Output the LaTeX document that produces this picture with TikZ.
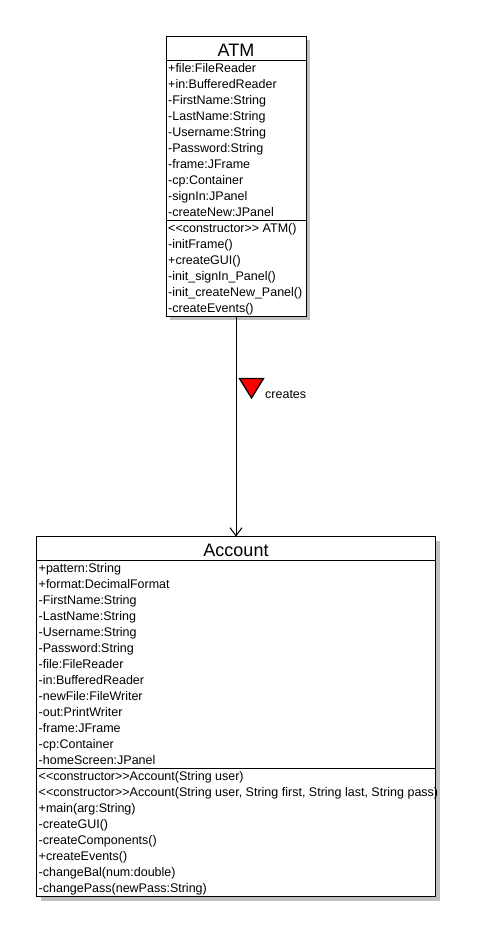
\documentclass[tikz,border=0pt]{standalone}
\usepackage{fontspec}
\setmainfont{Liberation Sans}
\usetikzlibrary{arrows.meta}
\definecolor{shadowgray}{RGB}{192,192,192}
\begin{document}
\begin{tikzpicture}[x=1pt,y=-1pt,
  classbox/.style={draw=black,line width=1pt,fill=white,anchor=north west,inner sep=0pt,outer sep=0pt},
  shadowfill/.style={fill=shadowgray,draw=none},
  member/.style={anchor=base west,inner sep=0pt,font=\fontsize{12.5}{14}\selectfont},
  classtitle/.style={anchor=base,inner sep=0pt,font=\fontsize{18}{20}\selectfont},
  sepline/.style={line width=1pt},
  assoc/.style={line width=1pt,-{Straight Barb[length=8pt,width=12pt,line width=1pt]}},
  marker/.style={fill=red,draw=black,line width=1.3pt,line join=miter}
]
\fill[white] (0,0) rectangle (477,937);
\useasboundingbox (0,0) rectangle (477,937);

% ---------- ATM ----------
\fill[shadowfill] (170,40) rectangle (310,320);
\node[classbox,minimum width=140pt,minimum height=280pt] (atm) at (166,36) {};
\node[classtitle] (atmtitle) at (236,56) {ATM};
\draw[sepline] (166,60) -- (306,60);
\draw[sepline] (166,220) -- (306,220);
\foreach \t [count=\i from 0] in {{+file:FileReader},{+in:BufferedReader},{-FirstName:String},{-LastName:String},{-Username:String},{-Password:String},{-frame:JFrame},{-cp:Container},{-signIn:JPanel},{-createNew:JPanel}}
  \node[member] (atma\i) at (168,72.5+16*\i) {\t};
\foreach \t [count=\i from 0] in {{<{}<constructor>{}> ATM()},{-initFrame()},{+createGUI()},{-init\_signIn\_Panel()},{-init\_createNew\_Panel()},{-createEvents()}}
  \node[member] (atmm\i) at (168,232.5+16*\i) {\t};

% ---------- Account ----------
\fill[shadowfill] (40.5,540.5) rectangle (439.5,900.5);
\node[classbox,minimum width=399pt,minimum height=360pt] (acct) at (36.5,536.5) {};
\node[classtitle] (accttitle) at (236,556.5) {Account};
\draw[sepline] (36.5,560.5) -- (435.5,560.5);
\draw[sepline] (36.5,768.5) -- (435.5,768.5);
\foreach \t [count=\i from 0] in {{+pattern:String},{+format:DecimalFormat},{-FirstName:String},{-LastName:String},{-Username:String},{-Password:String},{-file:FileReader},{-in:BufferedReader},{-newFile:FileWriter},{-out:PrintWriter},{-frame:JFrame},{-cp:Container},{-homeScreen:JPanel}}
  \node[member] (accta\i) at (38.5,572.5+16*\i) {\t};
\foreach \t [count=\i from 0] in {{<{}<constructor>{}>Account(String user)},{<{}<constructor>{}>Account(String user, String first, String last, String pass)},{+main(arg:String)},{-createGUI()},{-createComponents()},{+createEvents()},{-changeBal(num:double)},{-changePass(newPass:String)}}
  \node[member] (acctm\i) at (38.5,780.5+16*\i) {\t};

% ---------- association ----------
\draw[assoc] (atm.south) -- (acct.north);
\filldraw[marker] (239.5,378.5) -- (263.5,378.5) -- (251.5,398) -- cycle;
\node[member] (createslbl) at (265,398) {creates};
\end{tikzpicture}
\end{document}
